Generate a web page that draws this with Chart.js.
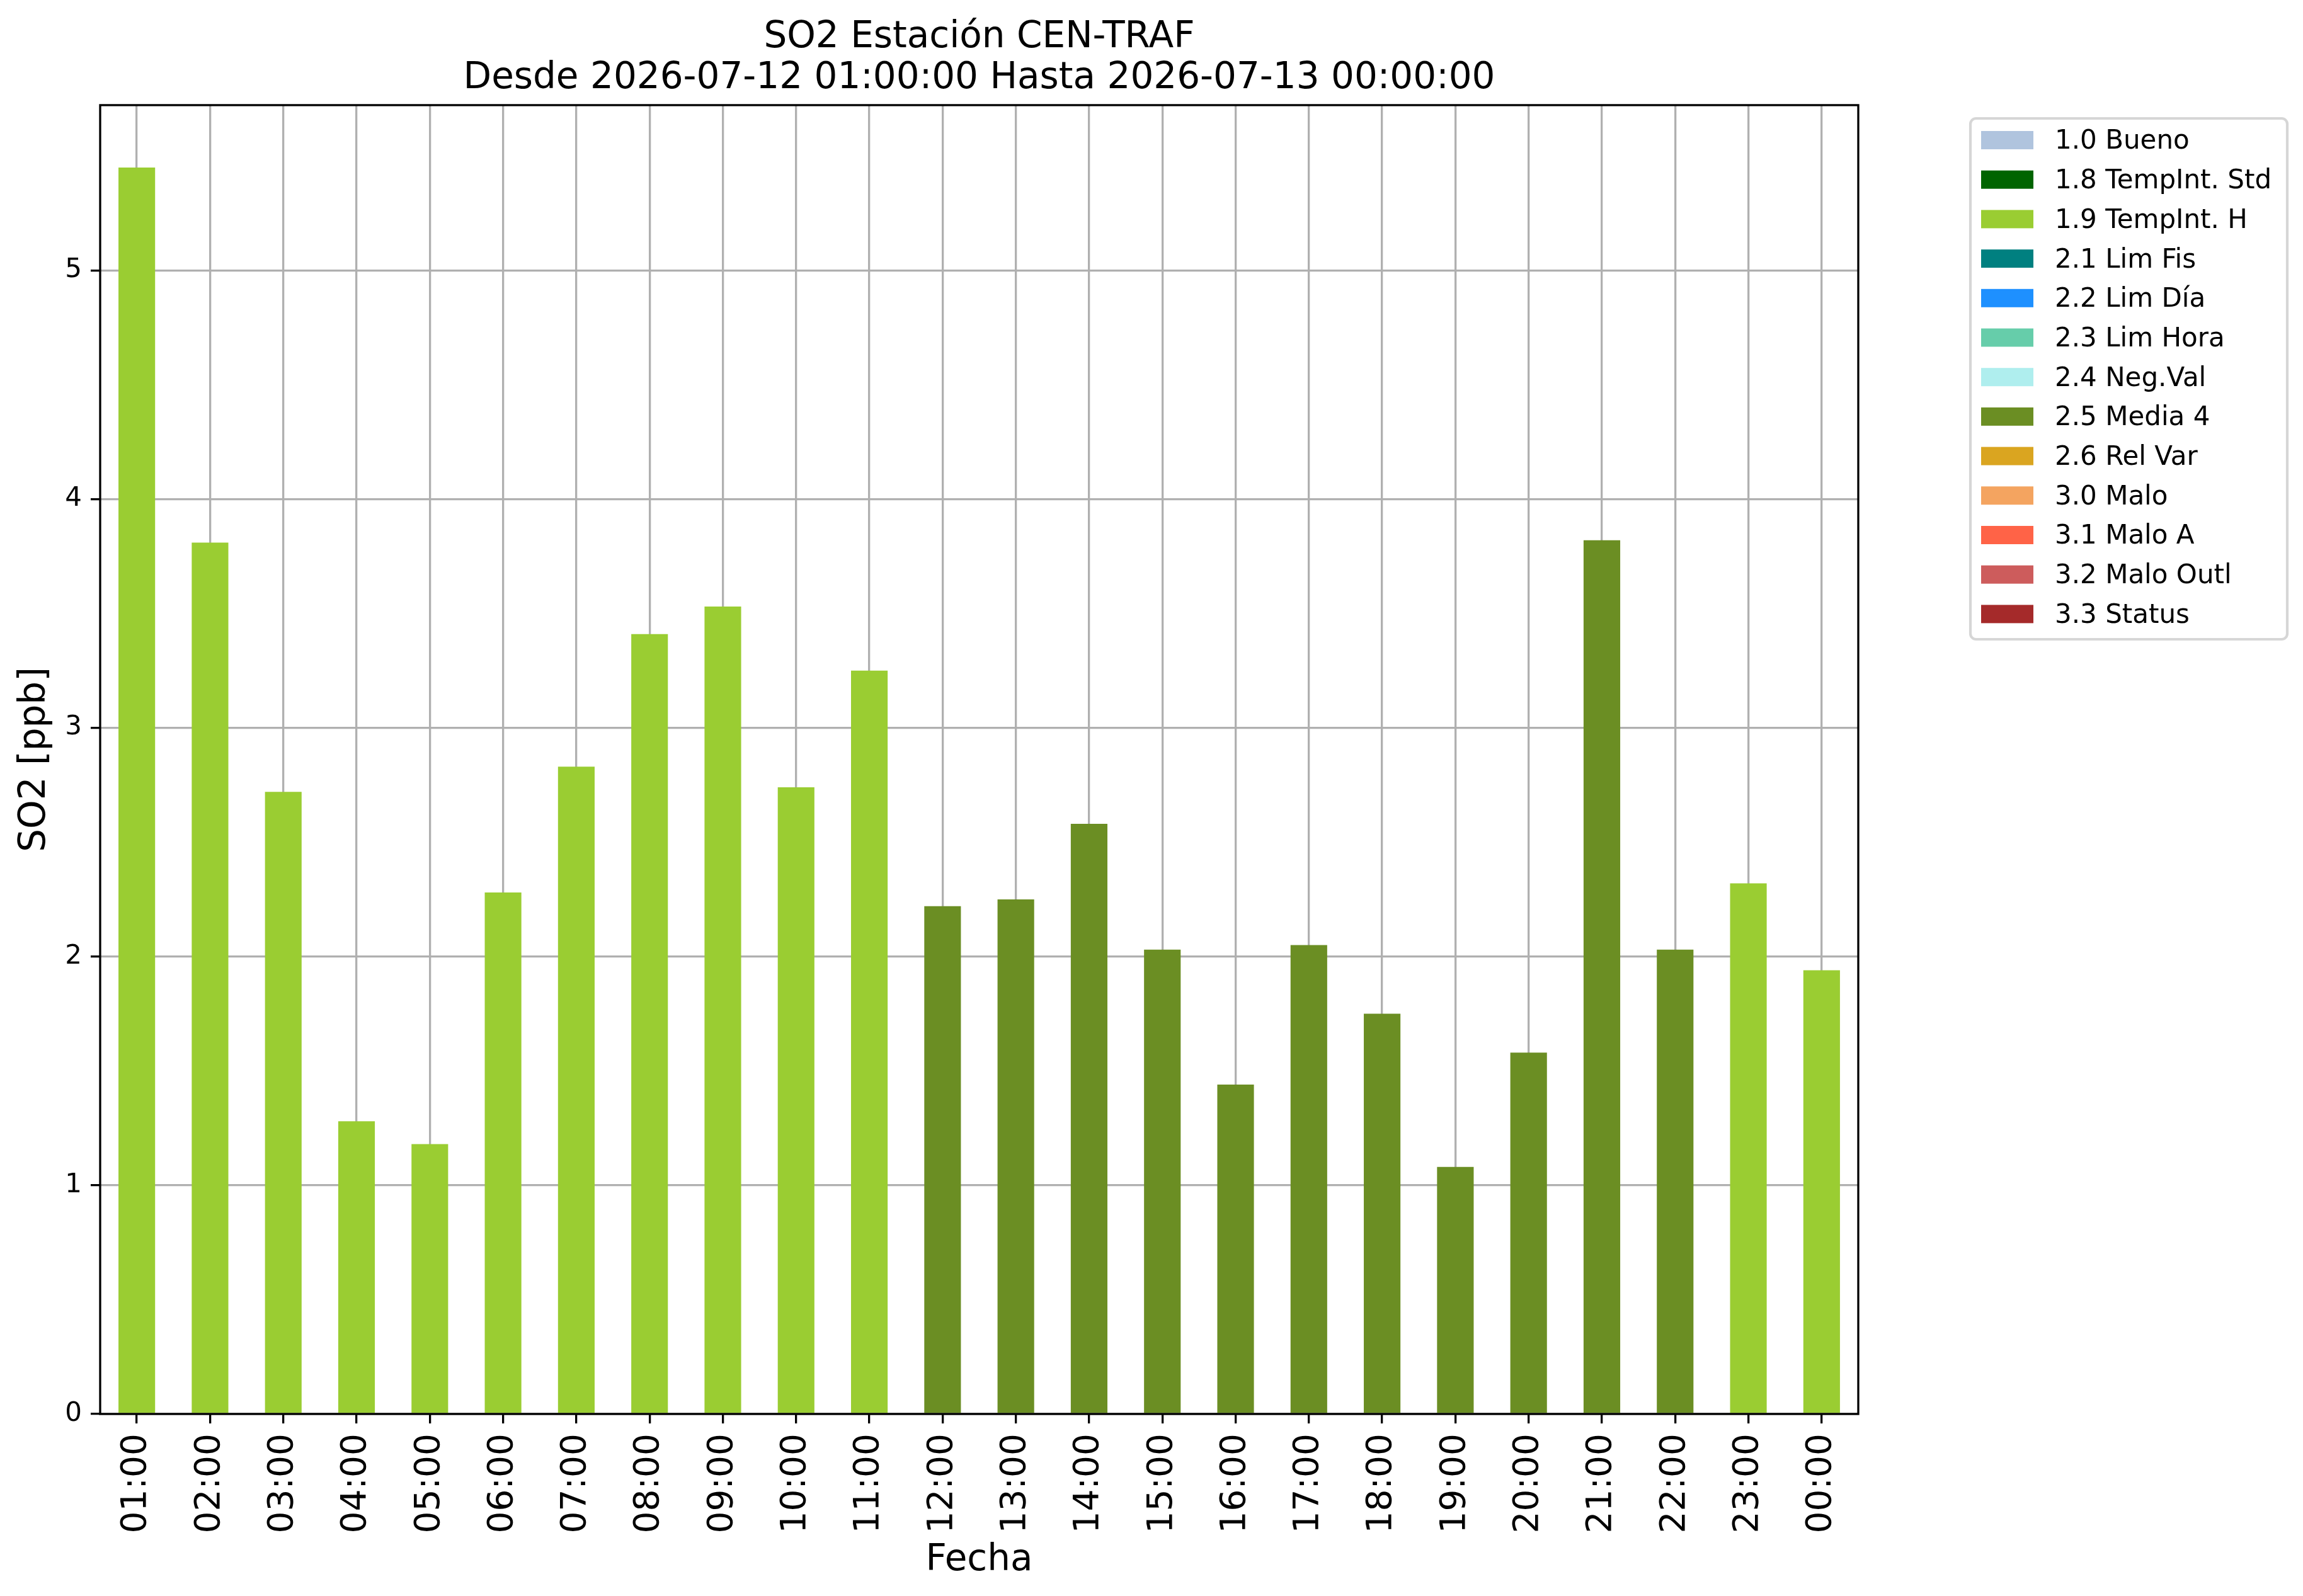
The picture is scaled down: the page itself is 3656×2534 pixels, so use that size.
<!DOCTYPE html>
<html>
<head>
<meta charset="utf-8">
<title>SO2 Estación CEN-TRAF</title>
<script src="https://cdn.jsdelivr.net/npm/chart.js@4.4.1/dist/chart.umd.min.js"></script>
<style>
  html, body { margin: 0; padding: 0; background: #ffffff; overflow: hidden; }
  #wrap { width: 3656px; height: 2534px; }
</style>
</head>
<body>
<div id="wrap"><canvas id="so2Chart" width="3656" height="2534"></canvas></div>
<script>
// horas del periodo
const hours = ['01:00', '02:00', '03:00', '04:00', '05:00', '06:00', '07:00', '08:00',
  '09:00', '10:00', '11:00', '12:00', '13:00', '14:00', '15:00', '16:00',
  '17:00', '18:00', '19:00', '20:00', '21:00', '22:00', '23:00', '00:00'];

// SO2 [ppb] por hora
const so2 = [5.45, 3.81, 2.72, 1.28, 1.18, 2.28, 2.83, 3.41, 3.53, 2.74, 3.25, 2.22,
  2.25, 2.58, 2.03, 1.44, 2.05, 1.75, 1.08, 1.58, 3.82, 2.03, 2.32, 1.94];

// flag de validacion de cada hora
const hourFlags = ['1.9', '1.9', '1.9', '1.9', '1.9', '1.9', '1.9', '1.9', '1.9', '1.9', '1.9', '2.5',
  '2.5', '2.5', '2.5', '2.5', '2.5', '2.5', '2.5', '2.5', '2.5', '2.5', '1.9', '1.9'];

// codigos de flag, nombres y colores
const flagCodes = ['1.0', '1.8', '1.9', '2.1', '2.2', '2.3', '2.4', '2.5', '2.6', '3.0', '3.1', '3.2', '3.3'];
const flagNames = ['Bueno', 'TempInt. Std', 'TempInt. H', 'Lim Fis', 'Lim Día', 'Lim Hora', 'Neg.Val',
  'Media 4', 'Rel Var', 'Malo', 'Malo A', 'Malo Outl', 'Status'];
const flagColors = ['#b0c4de', '#006400', '#9acd32', '#008080', '#1e90ff', '#66cdaa', '#afeeee',
  '#6b8e23', '#daa520', '#f4a460', '#ff6347', '#cd5c5c', '#a52a2a'];

// ticks del eje y
const yTicks = [0, 1, 2, 3, 4, 5];

const FONT = "'DejaVu Sans', 'Liberation Sans', sans-serif";
const GRID = '#b0b0b0';
const LW = 3.3;

// una serie por flag, solo con las horas que tienen ese flag
const datasets = flagCodes.map(function(code, i) {
  return {
    label: code + ' ' + flagNames[i],
    data: so2.map(function(v, h) { return hourFlags[h] === code ? v : null; }),
    backgroundColor: flagColors[i],
    borderWidth: 0,
    categoryPercentage: 1.0,
    barPercentage: 0.5
  };
});

// marco completo de los ejes (spines)
const framePlugin = {
  id: 'frame',
  afterDraw(chart) {
    const a = chart.chartArea, ctx = chart.ctx;
    ctx.save();
    ctx.strokeStyle = '#000000';
    ctx.lineWidth = LW;
    ctx.strokeRect(a.left, a.top, a.right - a.left, a.bottom - a.top);
    ctx.restore();
  }
};

// leyenda estilo matplotlib a la derecha
const legendPlugin = {
  id: 'sideLegend',
  afterDraw(chart) {
    const ctx = chart.ctx;
    const bx = 3128, by = 188, bw = 503, bh = 827, r = 9;
    ctx.save();
    ctx.fillStyle = 'rgba(255,255,255,0.8)';
    ctx.strokeStyle = '#d6d6d6';
    ctx.lineWidth = 4.2;
    ctx.beginPath();
    ctx.roundRect(bx, by, bw, bh, r);
    ctx.fill();
    ctx.stroke();
    ctx.font = '42px ' + FONT;
    ctx.textBaseline = 'middle';
    ctx.textAlign = 'left';
    chart.data.datasets.forEach(function(ds, i) {
      const cy = 222.5 + i * 62.7;
      ctx.fillStyle = ds.backgroundColor;
      ctx.fillRect(3145, cy - 14.5, 83, 29);
      ctx.fillStyle = '#000000';
      ctx.fillText(ds.label, 3262, cy + 3);
    });
    ctx.restore();
  }
};

new Chart(document.getElementById('so2Chart').getContext('2d'), {
  type: 'bar',
  data: { labels: hours, datasets: datasets },
  options: {
    responsive: false,
    devicePixelRatio: 1,
    animation: false,
    layout: { padding: { left: 0, right: 706, top: 0, bottom: 0 } },
    plugins: {
      legend: { display: false },
      tooltip: { enabled: false },
      title: {
        display: true,
        fullSize: false,
        text: ['SO2 Estación CEN-TRAF', 'Desde 2026-07-12 01:00:00 Hasta 2026-07-13 00:00:00'],
        color: '#000000',
        font: { family: FONT, size: 58, weight: 'normal', lineHeight: 1.12 },
        padding: { top: 27, bottom: 10 }
      }
    },
    scales: {
      x: {
        stacked: true,
        offset: true,
        z: 1,
        afterFit: function(scale) { scale.height = 289; },
        grid: { offset: false, color: GRID, lineWidth: LW, tickColor: '#000000', tickWidth: LW, tickLength: 15 },
        border: { display: false },
        ticks: {
          autoSkip: false, maxRotation: 90, minRotation: 90, padding: 16,
          color: '#000000', font: { family: FONT, size: 55 }
        },
        title: {
          display: true, text: 'Fecha', color: '#000000',
          font: { family: FONT, size: 58, lineHeight: 1.2 },
          padding: { top: 0, bottom: 21 }
        }
      },
      y: {
        stacked: true,
        min: 0,
        max: Math.max.apply(null, so2) * 1.05,
        z: 1,
        afterFit: function(scale) { scale.width = 159; },
        afterBuildTicks: function(scale) { scale.ticks = yTicks.map(function(v) { return { value: v }; }); },
        grid: { color: GRID, lineWidth: LW, tickColor: '#000000', tickWidth: LW, tickLength: 15 },
        border: { display: false },
        ticks: { padding: 14, color: '#000000', font: { family: FONT, size: 42 } },
        title: {
          display: true, text: 'SO2 [ppb]', color: '#000000',
          font: { family: FONT, size: 58, lineHeight: 1.2 },
          padding: { top: 21, bottom: 0 }
        }
      }
    }
  },
  plugins: [framePlugin, legendPlugin]
});
</script>
</body>
</html>
